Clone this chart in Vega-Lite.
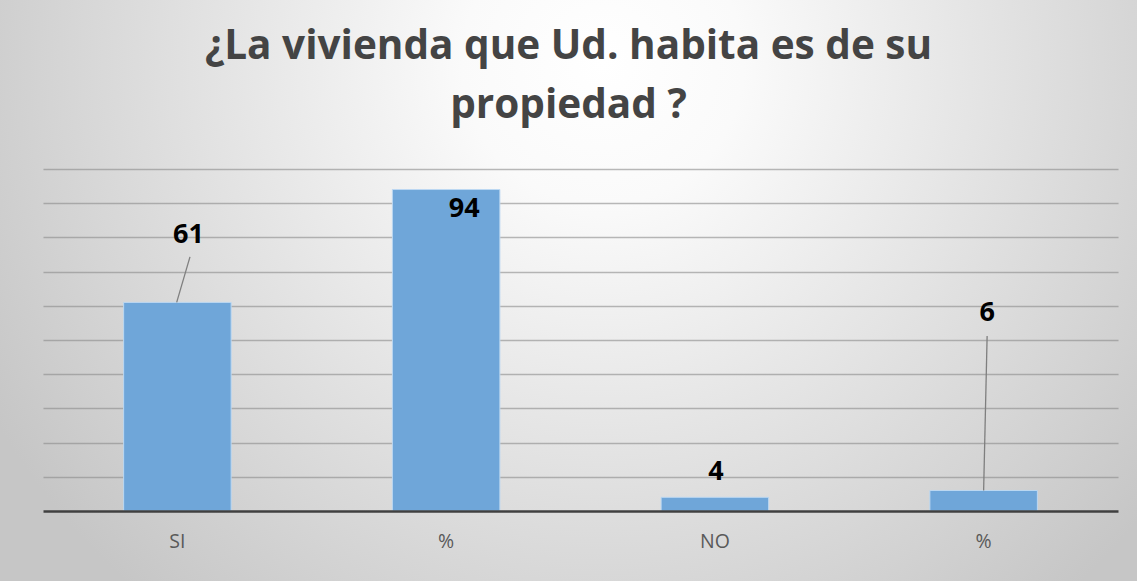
{
  "$schema": "https://vega.github.io/schema/vega-lite/v6.json",
  "width": 1137,
  "height": 581,
  "autosize": "none",
  "padding": 0,
  "background": "#ffffff",
  "title": {
    "text": ["¿La vivienda que Ud. habita es de su", "propiedad ?"],
    "font": "Open Sans",
    "fontSize": 40.5,
    "fontWeight": "bold",
    "color": "#444444",
    "lineHeight": 59,
    "anchor": "middle",
    "frame": "group",
    "offset": -126
  },
  "config": {
    "view": {
      "stroke": null,
      "fill": {"gradient": "radial", "x1": 0.53, "y1": 0.3, "r1": 0, "x2": 0.53, "y2": 0.3, "r2": 0.62, "stops": [{"offset": 0, "color": "#ffffff"}, {"offset": 0.2, "color": "#fafafa"}, {"offset": 1, "color": "#c6c6c6"}]}
    },
    "axis": {"labelFont": "Open Sans"},
    "axisY": {"tickCount": 10}
  },
  "data": {
    "values": [
      {"id": "a", "cat": "SI", "value": 61},
      {"id": "b", "cat": "%", "value": 94},
      {"id": "c", "cat": "NO", "value": 4},
      {"id": "d", "cat": "%", "value": 6}
    ]
  },
  "encoding": {
    "x": {
      "field": "id",
      "type": "nominal",
      "sort": null,
      "scale": {"paddingInner": 0.6, "paddingOuter": 0.3, "range": [43, 1118]},
      "axis": {
        "title": null,
        "labelExpr": "{'a':'SI','b':'%','c':'NO','d':'%'}[datum.value]",
        "labelAngle": 0,
        "labelFontSize": 19.5,
        "labelColor": "#595959",
        "labelPadding": 21,
        "ticks": false,
        "offset": -70,
        "domainColor": "#404040",
        "domainWidth": 2.5,
        "zindex": 2
      }
    }
  },
  "layer": [
    {
      "mark": {"type": "bar", "color": "#6fa6d9", "stroke": "#bcd8f2", "strokeWidth": 1},
      "encoding": {
        "y": {
          "field": "value",
          "type": "quantitative",
          "scale": {"domain": [0, 100], "nice": false, "range": [511, 169]},
          "axis": {
            "title": null,
            "labels": false,
            "ticks": false,
            "domain": false,
            "tickCount": 10,
            "values": [10, 20, 30, 40, 50, 60, 70, 80, 90, 100],
            "gridColor": "#8a8a8a",
            "gridOpacity": 0.6,
            "gridWidth": 1.3
          }
        }
      }
    },
    {
      "transform": [{"filter": "datum.id == 'a'"}],
      "layer": [
        {
          "mark": {"type": "rule", "color": "#7f7f7f", "strokeWidth": 1.3, "xOffset": -0.7, "x2Offset": 12.6},
          "encoding": {
            "x2": {"field": "id"},
            "y": {"field": "value", "type": "quantitative"},
            "y2": {"datum": 74.3}
          }
        },
        {
          "mark": {"type": "text", "font": "Open Sans", "fontSize": 27, "fontWeight": "bold", "color": "#000000", "dx": 11, "baseline": "middle"},
          "encoding": {"y": {"datum": 80.8}, "text": {"field": "value"}}
        }
      ]
    },
    {
      "transform": [{"filter": "datum.id == 'b'"}],
      "mark": {"type": "text", "font": "Open Sans", "fontSize": 27, "fontWeight": "bold", "color": "#000000", "dx": 18, "baseline": "middle"},
      "encoding": {"y": {"datum": 88.2}, "text": {"field": "value"}}
    },
    {
      "transform": [{"filter": "datum.id == 'c'"}],
      "mark": {"type": "text", "font": "Open Sans", "fontSize": 27, "fontWeight": "bold", "color": "#000000", "dx": 1, "baseline": "middle"},
      "encoding": {"y": {"datum": 11.4}, "text": {"field": "value"}}
    },
    {
      "transform": [{"filter": "datum.id == 'd'"}],
      "layer": [
        {
          "mark": {"type": "rule", "color": "#7f7f7f", "strokeWidth": 1.3, "xOffset": 0, "x2Offset": 3.5},
          "encoding": {
            "x2": {"field": "id"},
            "y": {"field": "value", "type": "quantitative"},
            "y2": {"datum": 51.2}
          }
        },
        {
          "mark": {"type": "text", "font": "Open Sans", "fontSize": 27, "fontWeight": "bold", "color": "#000000", "dx": 3.5, "baseline": "middle"},
          "encoding": {"y": {"datum": 57.9}, "text": {"field": "value"}}
        }
      ]
    }
  ]
}
